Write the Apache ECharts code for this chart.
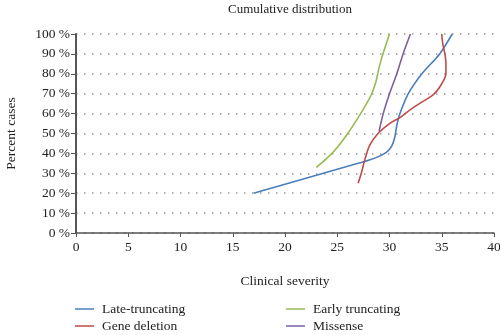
<!DOCTYPE html>
<html>
<head>
<meta charset="utf-8">
<script src="https://cdn.jsdelivr.net/npm/echarts@6/dist/echarts.min.js"></script>
<style>html,body{margin:0;padding:0;background:#fff}#c{width:500px;height:335px}</style>
</head>
<body>
<div id="c"></div>
<script>
const seriesNames = ['Late-truncating', 'Gene deletion', 'Early truncating', 'Missense'];
const lateX = [17, 19, 21, 23, 25, 27, 28, 29, 29.7, 30.2, 30.5, 30.7, 31, 31.8, 33.1, 34.8, 36];
const lateY = [20, 23, 26, 29, 32, 35, 36.5, 38.5, 40.5, 43.5, 48, 54, 60, 70, 80, 90, 100];
const delX = [27, 27.3, 27.65, 28.1, 28.9, 30, 31, 32, 33, 34.2, 35, 35.4, 35.4, 35.3, 35.1, 35];
const delY = [25, 30, 37, 44, 50, 55, 58, 62, 65.5, 69.5, 75, 80, 85, 90, 95, 100];
const earlyX = [23, 24, 25, 26, 27, 27.8, 28.3, 28.7, 28.95, 29.2, 29.5, 30];
const earlyY = [33, 37.5, 43, 50, 58, 65, 70, 76, 82, 87, 92, 100];
const misX = [29, 29.4, 30, 30.7, 31.3, 32];
const misY = [51, 60, 70, 80, 90, 100];
const colors = ['#4a7ebb', '#be4b48', '#98b954', '#7d60a0'];

const zip = (xs, ys) => xs.map((x, i) => [x, ys[i]]);
const datasets = [zip(lateX, lateY), zip(delX, delY), zip(earlyX, earlyY), zip(misX, misY)];
const font = 'Liberation Serif';
const legendPos = [[75, 302], [75, 319], [286, 302], [286, 319]];

const chart = echarts.init(document.getElementById('c'));
chart.setOption({
  animation: false,
  textStyle: { fontFamily: font },
  title: {
    text: 'Cumulative distribution', left: 285, top: -2, textAlign: 'center',
    textStyle: { fontFamily: font, fontSize: 13, fontWeight: 'normal', color: '#222' }
  },
  grid: { left: 76, right: 6, top: 34, bottom: 102, containLabel: false, outerBoundsMode: 'none' },
  legend: seriesNames.map((n, i) => ({
    data: [n], left: legendPos[i][0], top: legendPos[i][1], padding: 0,
    icon: 'rect', itemWidth: 19, itemHeight: 1.5,
    textStyle: { fontFamily: font, fontSize: 13.5, color: '#222', padding: [0, 0, 0, 3] }
  })),
  xAxis: {
    type: 'value', min: 0, max: 40, interval: 5,
    name: 'Clinical severity', nameLocation: 'middle', nameGap: 41,
    nameTextStyle: { fontFamily: font, fontSize: 13.5, color: '#222' },
    axisLine: { lineStyle: { color: '#555', width: 1.5 } },
    axisTick: { show: true, length: 4, lineStyle: { color: '#555' } },
    axisLabel: { fontFamily: font, fontSize: 13.5, color: '#222', margin: 7 },
    splitLine: { show: false }
  },
  yAxis: {
    type: 'value', min: 0, max: 100, interval: 10,
    name: 'Percent cases', nameLocation: 'middle', nameGap: 58,
    nameTextStyle: { fontFamily: font, fontSize: 13.5, color: '#222' },
    axisLine: { show: true, lineStyle: { color: '#555', width: 2 } },
    axisTick: { show: true, length: 5, lineStyle: { color: '#555' } },
    axisLabel: { fontFamily: font, fontSize: 13.5, color: '#222', margin: 6, formatter: v => v + ' %' },
    splitLine: { show: true, lineStyle: { color: '#999', type: [1.5, 6.5], width: 1.5 } }
  },
  series: seriesNames.map((n, i) => ({
    name: n, type: 'line', data: datasets[i], smooth: 0.3, smoothMonotone: 'none',
    showSymbol: false, symbol: 'none', color: colors[i],
    lineStyle: { width: 1.6, color: colors[i] }
  }))
});
</script>
</body>
</html>
